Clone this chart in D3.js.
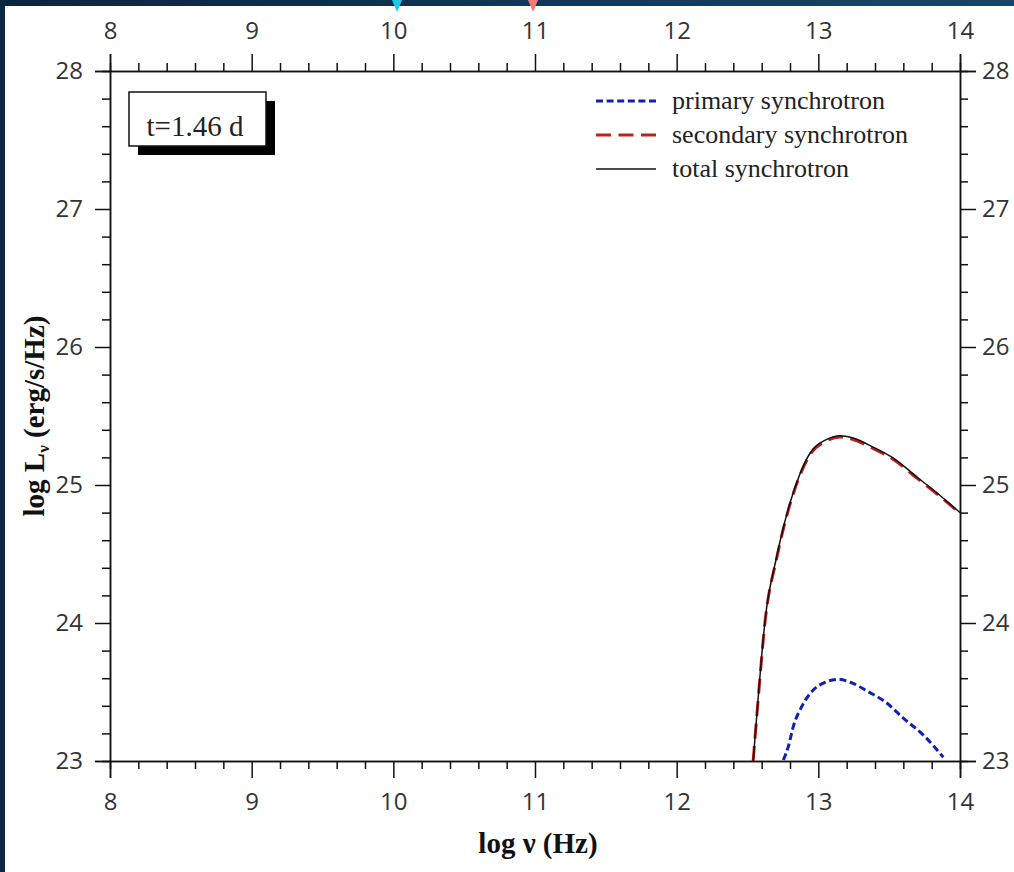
<!DOCTYPE html>
<html lang="en">
<head>
  <meta charset="UTF-8">
  <script src="https://d3js.org/d3.v7.min.js"></script>
  <title>Synchrotron spectrum</title>
  <style>
    body { margin: 0; background: #fff; }
    .tick-label { font-family: "Open Sans", sans-serif; font-size: 24px; fill: #333; }
    .axis-title { font-family: "Liberation Serif", serif; font-size: 29px; font-weight: bold; fill: #111; }
    .legend text { font-family: "Liberation Serif", serif; font-size: 26px; fill: #222; }
  </style>
</head>
<body>
  <svg width="1014" height="872"></svg>

  <script>
    const width = 1014, height = 872;

    // log nu (Hz) and log L_nu (erg/s/Hz)
    const totalX = [12.54, 12.574, 12.624, 12.706, 12.80, 12.87, 12.941, 13.059, 13.153, 13.245, 13.386, 13.527, 13.696, 13.838, 14.0];
    const totalY = [23.0, 23.44, 24.02, 24.48, 24.87, 25.08, 25.23, 25.33, 25.357, 25.34, 25.275, 25.196, 25.058, 24.942, 24.80];
    const secondaryY = [23.0, 23.43, 24.01, 24.47, 24.86, 25.07, 25.22, 25.32, 25.347, 25.33, 25.265, 25.187, 25.05, 24.935, 24.795];

    const primaryX = [12.753, 12.788, 12.823, 12.882, 12.953, 13.059, 13.141, 13.235, 13.353, 13.471, 13.60, 13.741, 13.882];
    const primaryY = [23.007, 23.104, 23.249, 23.393, 23.502, 23.575, 23.592, 23.567, 23.502, 23.43, 23.31, 23.188, 23.027];

    const xTicks = [8, 9, 10, 11, 12, 13, 14];
    const yTicks = [23, 24, 25, 26, 27, 28];
    const legendLabels = ["primary synchrotron", "secondary synchrotron", "total synchrotron"];

    const plotLeft = 110, plotRight = 960, plotTop = 71, plotBottom = 761;

    const svg = d3.select("svg");

    // page frame (dark strips on top and left)
    const grad = svg.append("defs").append("linearGradient").attr("id", "band");
    grad.append("stop").attr("offset", "0%").attr("stop-color", "#0a2440");
    grad.append("stop").attr("offset", "100%").attr("stop-color", "#15486c");
    svg.append("rect").attr("x", 0).attr("y", 0).attr("width", width).attr("height", 6).attr("fill", "url(#band)");
    svg.append("rect").attr("x", 0).attr("y", 0).attr("width", 5).attr("height", height).attr("fill", "#0b2642");
    svg.append("path").attr("d", "M392,0 L402,0 L397,12 Z").attr("fill", "#1ec8e8");
    svg.append("path").attr("d", "M528,0 L538,0 L533,12 Z").attr("fill", "#f07a78");

    const x = d3.scaleLinear().domain([8, 14]).range([plotLeft, plotRight]);
    const y = d3.scaleLinear().domain([23, 28]).range([plotBottom, plotTop]);

    const minorX = d3.range(8, 14.001, 0.2).filter(v => Math.abs(v - Math.round(v)) > 1e-6);
    const minorY = d3.range(23, 28.001, 0.2).filter(v => Math.abs(v - Math.round(v)) > 1e-6);

    function styleAxis(g) {
      g.select(".domain").attr("stroke", "#111").attr("stroke-width", 1.5);
      g.selectAll(".tick line").attr("stroke", "#111").attr("stroke-width", 1.5);
      g.selectAll(".tick text").attr("class", "tick-label");
    }

    // minor ticks
    svg.append("g").attr("transform", `translate(0,${plotBottom})`)
      .call(d3.axisBottom(x).tickValues(minorX).tickSize(8).tickFormat(""))
      .call(styleAxis);
    svg.append("g").attr("transform", `translate(0,${plotTop})`)
      .call(d3.axisTop(x).tickValues(minorX).tickSize(8).tickFormat(""))
      .call(styleAxis);
    svg.append("g").attr("transform", `translate(${plotLeft},0)`)
      .call(d3.axisLeft(y).tickValues(minorY).tickSize(8).tickFormat(""))
      .call(styleAxis);
    svg.append("g").attr("transform", `translate(${plotRight},0)`)
      .call(d3.axisRight(y).tickValues(minorY).tickSize(8).tickFormat(""))
      .call(styleAxis);

    // major ticks
    svg.append("g").attr("transform", `translate(0,${plotBottom})`)
      .call(d3.axisBottom(x).tickValues(xTicks).tickSize(17).tickPadding(15).tickFormat(d3.format("d")))
      .call(styleAxis);
    svg.append("g").attr("transform", `translate(0,${plotTop})`)
      .call(d3.axisTop(x).tickValues(xTicks).tickSize(17).tickPadding(15).tickFormat(d3.format("d")))
      .call(styleAxis);
    svg.append("g").attr("transform", `translate(${plotLeft},0)`)
      .call(d3.axisLeft(y).tickValues(yTicks).tickSize(15).tickPadding(12).tickFormat(d3.format("d")))
      .call(styleAxis);
    svg.append("g").attr("transform", `translate(${plotRight},0)`)
      .call(d3.axisRight(y).tickValues(yTicks).tickSize(16).tickPadding(6).tickFormat(d3.format("d")))
      .call(styleAxis);

    // curves
    const line = d3.line().x(d => x(d[0])).y(d => y(d[1])).curve(d3.curveMonotoneX);

    svg.append("path")
      .datum(totalX.map((v, i) => [v, secondaryY[i]]))
      .attr("d", line).attr("fill", "none")
      .attr("stroke", "#c0201c").attr("stroke-width", 3).attr("stroke-dasharray", "15,7.5");

    svg.append("path")
      .datum(totalX.map((v, i) => [v, totalY[i]]))
      .attr("d", line).attr("fill", "none")
      .attr("stroke", "#111").attr("stroke-width", 1.5);

    svg.append("path")
      .datum(primaryX.map((v, i) => [v, primaryY[i]]))
      .attr("d", line).attr("fill", "none")
      .attr("stroke", "#1020b0").attr("stroke-width", 3).attr("stroke-dasharray", "7,3.6");

    // time label box
    svg.append("rect").attr("x", 138).attr("y", 101).attr("width", 137).attr("height", 54).attr("fill", "#000");
    svg.append("rect").attr("x", 129).attr("y", 92).attr("width", 137).attr("height", 54)
      .attr("fill", "#fff").attr("stroke", "#111").attr("stroke-width", 1.5);
    svg.append("text").attr("x", 195).attr("y", 126).attr("dy", "0.35em")
      .attr("text-anchor", "middle")
      .style("font-family", "'Liberation Serif', serif").style("font-size", "29px").style("fill", "#222")
      .text("t=1.46 d");

    // legend
    const legendStyles = [
      { color: "#1020b0", dash: "7,3.6", w: 3 },
      { color: "#c0201c", dash: "15,7.5", w: 3 },
      { color: "#111", dash: null, w: 1.5 }
    ];
    const legend = svg.append("g").attr("class", "legend");
    legendLabels.forEach((label, i) => {
      const ly = 101 + i * 34;
      legend.append("line")
        .attr("x1", 596).attr("x2", 656).attr("y1", ly).attr("y2", ly)
        .attr("stroke", legendStyles[i].color).attr("stroke-width", legendStyles[i].w)
        .attr("stroke-dasharray", legendStyles[i].dash);
      legend.append("text").attr("x", 672).attr("y", ly).attr("dy", "0.32em").text(label);
    });

    // axis titles
    svg.append("text").attr("class", "axis-title")
      .attr("x", 538).attr("y", 853).attr("text-anchor", "middle")
      .text("log ν (Hz)");

    const yt = svg.append("text").attr("class", "axis-title")
      .attr("transform", `translate(44,${(plotTop + plotBottom) / 2}) rotate(-90)`)
      .attr("text-anchor", "middle");
    yt.append("tspan").text("log L");
    yt.append("tspan").attr("dy", 5).style("font-size", "17px").text("ν");
    yt.append("tspan").attr("dy", -5).text(" (erg/s/Hz)");
  </script>
</body>
</html>
